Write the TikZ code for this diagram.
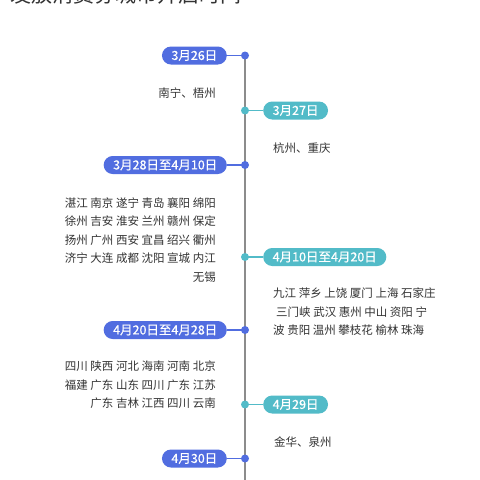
\documentclass[tikz,border=0pt]{standalone}
\usepackage{fontspec}
\usetikzlibrary{backgrounds}
\newfontfamily\cjk{Noto Sans CJK SC}
\newfontfamily\cjkpill[FakeBold=0.6]{Noto Sans CJK SC}
\definecolor{pillblue}{HTML}{516DE0}
\definecolor{pillteal}{HTML}{52BBC8}
\definecolor{axisgray}{HTML}{8C8C8C}
\definecolor{txt}{HTML}{333333}
\begin{document}
\begin{tikzpicture}[x=1pt,y=-1pt,
  pill/.style={rounded corners=9pt, minimum height=18pt, inner xsep=9.5pt, inner ysep=0pt, text=white, font=\cjkpill\fontsize{12.5}{14}\selectfont},
  bluepill/.style={pill, fill=pillblue},
  tealpill/.style={pill, fill=pillteal},
  tdot/.style={circle, inner sep=0pt, minimum size=8pt},
  conn/.style={line width=1.5pt},
  city/.style={inner sep=0pt, text=txt, font=\cjk\fontsize{11.5}{18.5}\selectfont},
]
\useasboundingbox (0,0) rectangle (480,480);
\clip (0,0) rectangle (480,480);
% title (cut off at top, as in the reference)
\node[anchor=base west, inner sep=0pt, text=txt, font=\cjk\fontsize{21}{24}\selectfont] (title) at (10,2.5) {发放消费券城市开启时间};
% dots
\node[tdot, fill=pillblue] (d1) at (245,55.5) {};
\node[tdot, fill=pillteal] (d2) at (245,110.5) {};
\node[tdot, fill=pillblue] (d3) at (245,165) {};
\node[tdot, fill=pillteal] (d4) at (245,257) {};
\node[tdot, fill=pillblue] (d5) at (245,330) {};
\node[tdot, fill=pillteal] (d6) at (245,404.5) {};
\node[tdot, fill=pillblue] (d7) at (245,458.5) {};
\coordinate (axisend) at (245,482);
% pills
\node[bluepill, anchor=east] (p1) at (227,55.5) {3月26日};
\node[tealpill, anchor=west] (p2) at (263,110.5) {3月27日};
\node[bluepill, anchor=east] (p3) at (227,165) {3月28日至4月10日};
\node[tealpill, anchor=west] (p4) at (263,257) {4月10日至4月20日};
\node[bluepill, anchor=east] (p5) at (227,330) {4月20日至4月28日};
\node[tealpill, anchor=west] (p6) at (263,404.5) {4月29日};
\node[bluepill, anchor=east] (p7) at (227,458.5) {4月30日};
% city texts
\node[city, anchor=east] (t1) at (216,93.5) {南宁、梧州};
\node[city, anchor=west] (t2) at (273,148) {杭州、重庆};
\node[city, anchor=east, align=right] (t3) at (216,240) {湛江 南京 遂宁 青岛 襄阳 绵阳\\徐州 吉安 淮安 兰州 赣州 保定\\扬州 广州 西安 宜昌 绍兴 衢州\\济宁 大连 成都 沈阳 宣城 内江\\无锡};
\node[city, anchor=west, align=left] (t4) at (273,312) {九江 萍乡 上饶 厦门 上海 石家庄\\\hspace*{3pt}三门峡 武汉 惠州 中山 资阳 宁\\波 贵阳 温州 攀枝花 榆林 珠海};
\node[city, anchor=east, align=right] (t5) at (216,385) {四川 陕西 河北 海南 河南 北京\\福建 广东 山东 四川 广东 江苏\\广东 吉林 江西 四川 云南};
\node[city, anchor=west] (t6) at (274,442) {金华、泉州};
% lines behind
\begin{scope}[on background layer]
  \fill[white] (0,0) rectangle (480,480);
  \draw[axisgray, line width=2pt] (d1.center) -- (axisend);
  \draw[conn, pillblue] (p1.east) -- (d1.center);
  \draw[conn, pillteal] (d2.center) -- (p2.west);
  \draw[conn, pillblue] (p3.east) -- (d3.center);
  \draw[conn, pillteal] (d4.center) -- (p4.west);
  \draw[conn, pillblue] (p5.east) -- (d5.center);
  \draw[conn, pillteal] (d6.center) -- (p6.west);
  \draw[conn, pillblue] (p7.east) -- (d7.center);
\end{scope}
\end{tikzpicture}
\end{document}
